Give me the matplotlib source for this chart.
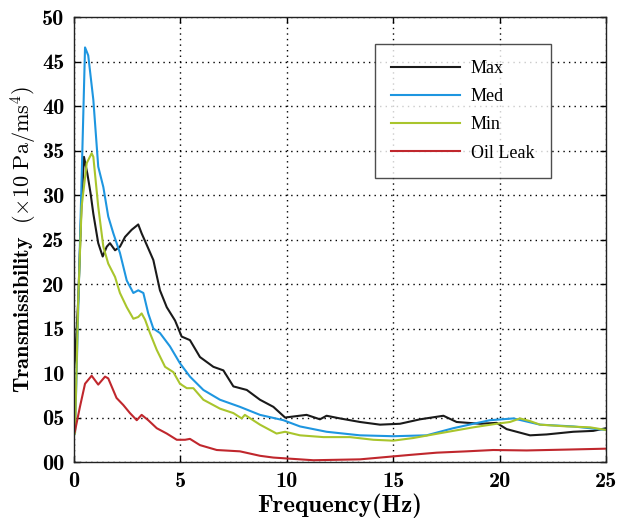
import matplotlib
matplotlib.use("Agg")
import matplotlib.pyplot as plt
from matplotlib.ticker import FixedLocator, FixedFormatter

plt.rcParams['mathtext.fontset'] = 'cm'

max_x = [0.0, 0.05, 0.2, 0.36, 0.47, 0.63, 0.78, 0.91, 1.14, 1.35, 1.54, 1.69, 1.93, 2.16, 2.40, 2.71,
         3.02, 3.18, 3.42, 3.73, 4.04, 4.36, 4.75, 5.06, 5.45, 5.92, 6.55, 7.02, 7.49, 8.12, 8.74,
         9.37, 9.92, 10.93, 11.56, 11.87, 12.5, 13.44, 14.38, 15.32, 16.26, 17.36, 17.98, 19.08,
         19.86, 20.33, 21.43, 22.21, 23.46, 24.4, 25.0]
max_y = [10.5, 11.5, 18.2, 29.4, 34.3, 32.4, 30.2, 27.9, 24.6, 23.1, 24.2, 24.6, 23.8, 24.2, 25.3, 26.1,
         26.7, 25.7, 24.4, 22.7, 19.3, 17.4, 15.9, 14.1, 13.7, 11.8, 10.7, 10.3, 8.5, 8.1, 7.0,
         6.2, 5.0, 5.3, 4.8, 5.2, 4.9, 4.5, 4.2, 4.3, 4.8, 5.2, 4.5, 4.3,
         4.4, 3.7, 3.0, 3.1, 3.4, 3.5, 3.8]

med_x = [0.0, 0.05, 0.52, 0.67, 0.91, 1.14, 1.38, 1.61, 1.85, 2.16, 2.48, 2.79, 3.02, 3.26, 3.49, 3.73,
         4.04, 4.51, 4.98, 5.45, 6.08, 6.86, 7.80, 8.74, 9.84, 10.62, 11.87, 13.44, 15.0, 16.57,
         17.82, 18.77, 19.55, 20.65, 21.9, 23.46, 25.0]
med_y = [3.0, 3.3, 46.6, 45.7, 40.7, 33.2, 30.9, 27.6, 25.7, 23.5, 20.4, 19.0, 19.3, 19.0, 16.7, 15.0,
         14.5, 13.0, 11.1, 9.6, 8.1, 7.0, 6.2, 5.3, 4.7, 4.0, 3.4, 3.0, 2.9, 3.0,
         3.8, 4.3, 4.7, 4.9, 4.2, 4.0, 3.6]

min_x = [0.0, 0.05, 0.2, 0.36, 0.6, 0.83, 0.91, 1.14, 1.38, 1.61, 1.93, 2.16, 2.48, 2.79, 3.02, 3.18,
         3.34, 3.57, 3.89, 4.28, 4.67, 4.98, 5.30, 5.61, 6.08, 6.86, 7.49, 7.88, 8.03, 8.74, 9.52,
         9.92, 10.62, 11.72, 12.97, 14.07, 15.0, 15.95, 16.88, 17.82, 18.77, 19.86, 20.49, 20.96,
         21.43, 21.9, 23.15, 24.25, 25.0]
min_y = [3.0, 3.3, 18.2, 28.7, 33.6, 34.7, 34.3, 28.7, 24.2, 22.3, 20.8, 19.0, 17.4, 16.1, 16.3, 16.7,
         16.0, 14.5, 12.6, 10.7, 10.1, 8.8, 8.3, 8.3, 7.0, 6.0, 5.5, 4.9, 5.3, 4.2, 3.2,
         3.4, 3.0, 2.8, 2.8, 2.5, 2.4, 2.7, 3.1, 3.5, 3.9, 4.3, 4.5, 4.9,
         4.6, 4.2, 4.0, 3.9, 3.6]

oil_x = [0.0, 0.05, 0.28, 0.52, 0.83, 1.14, 1.46, 1.61, 2.0, 2.32, 2.63, 2.95, 3.18, 3.49, 3.89, 4.36,
         4.83, 5.22, 5.45, 5.92, 6.71, 7.8, 8.74, 9.37, 11.25, 13.44, 15.79, 17.04, 18.45, 19.7,
         21.27, 23.2, 25.0]
oil_y = [3.2, 3.5, 6.2, 8.8, 9.7, 8.7, 9.6, 9.4, 7.2, 6.4, 5.5, 4.7, 5.3, 4.7, 3.8, 3.2,
         2.5, 2.5, 2.6, 1.9, 1.35, 1.2, 0.7, 0.5, 0.2, 0.3, 0.8, 1.05, 1.2, 1.35,
         1.3, 1.4, 1.5]

series_names = ['Max', 'Med', 'Min', 'Oil Leak']
colors = ['#1a1a1a', '#1e96e0', '#a9c52c', '#c0272d']

x_ticks = [0, 5, 10, 15, 20, 25]
x_tick_labels = ['0', '5', '10', '15', '20', '25']
y_ticks = [0, 5, 10, 15, 20, 25, 30, 35, 40, 45, 50]
y_tick_labels = ['00', '05', '10', '15', '20', '25', '30', '35', '40', '45', '50']

bold_family = ['cmb10', 'DejaVu Serif']

fig = plt.figure(figsize=(6.19, 5.20), dpi=100)
ax = fig.add_axes([0.1195, 0.1115, 0.8595, 0.8555])

for xs, ys, name, c in zip([max_x, med_x, min_x, oil_x], [max_y, med_y, min_y, oil_y],
                           series_names, colors):
    ax.plot(xs, ys, color=c, lw=1.5, label=name)

ax.set_xlim(0, 25)
ax.set_ylim(0, 50)
ax.xaxis.set_major_locator(FixedLocator(x_ticks))
ax.xaxis.set_major_formatter(FixedFormatter(x_tick_labels))
ax.yaxis.set_major_locator(FixedLocator(y_ticks))
ax.yaxis.set_major_formatter(FixedFormatter(y_tick_labels))
ax.grid(True, color='black', linestyle=(0, (1, 3)), lw=1.0)
ax.tick_params(direction='in', top=True, right=True, length=4, width=1, pad=7)
for lab in ax.get_xticklabels() + ax.get_yticklabels():
    lab.set_fontfamily(bold_family)
    lab.set_fontsize(16)
for sp in ax.spines.values():
    sp.set_linewidth(1.0)
    sp.set_color('#222222')

ax.set_xlabel('Frequency(Hz)', fontsize=18, family=bold_family, labelpad=2)
ax.set_ylabel(r'$\mathbf{Transmissibility}\ \ (\times 10\ \mathrm{Pa/ms^4})$', fontsize=16, labelpad=2)

leg = ax.legend(loc='upper left', bbox_to_anchor=(0.566, 0.94), frameon=True, fancybox=False,
                edgecolor='#222222', prop={'family': 'Liberation Serif', 'size': 13},
                handlelength=3.8, labelspacing=0.62, borderpad=0.9, handletextpad=0.6,
                borderaxespad=0)
leg.get_frame().set_linewidth(1.0)

fig.savefig('out.png', dpi=100)
